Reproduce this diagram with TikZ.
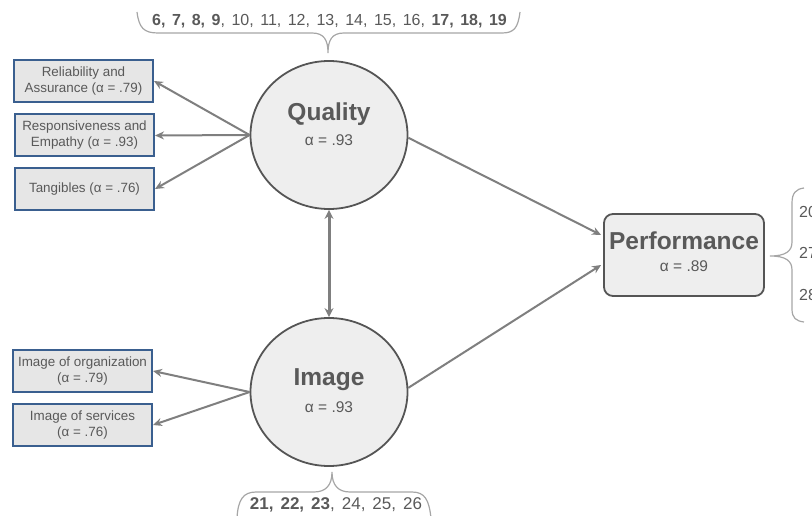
\documentclass[tikz,border=0pt]{standalone}
\usepackage{fontspec}
\setmainfont{Liberation Sans}
\usetikzlibrary{arrows.meta,calc,shapes.geometric}
\definecolor{txt}{HTML}{595959}
\definecolor{arrc}{HTML}{7F7F7F}
\definecolor{circb}{HTML}{555555}
\definecolor{circf}{HTML}{EEEEEE}
\definecolor{boxf}{HTML}{E6E6E6}
\definecolor{boxb}{HTML}{3A5F8F}
\definecolor{brc}{HTML}{A6A6A6}
\tikzset{
  circ/.style={ellipse, draw=circb, fill=circf, line width=1.8pt, minimum width=157pt, minimum height=148pt, inner sep=0pt},
  perf/.style={rectangle, rounded corners=9pt, draw=circb, fill=circf, line width=1.8pt, minimum width=160pt, minimum height=82pt, inner sep=0pt},
  itembox/.style={rectangle, draw=boxb, fill=boxf, line width=2pt, minimum width=139pt, minimum height=42pt, inner sep=0pt, align=center, text=txt, font=\fontsize{13.4}{16}\selectfont},
  ttl/.style={inner sep=0pt, text=txt, font=\fontsize{24.5}{28}\selectfont\bfseries},
  alp/.style={inner sep=0pt, text=txt, font=\fontsize{15.5}{18}\selectfont},
  brt/.style={inner sep=0pt, text=txt, font=\fontsize{16}{19}\selectfont},
  arr/.style={draw=arrc, line width=2pt, -{Stealth[length=9pt,width=8pt]}},
  darr/.style={draw=arrc, line width=3pt, {Stealth[length=9pt,width=9pt]}-{Stealth[length=9pt,width=9pt]}},
  bracel/.style={draw=brc, line width=1.2pt}
}
\begin{document}
\begin{tikzpicture}[x=1pt,y=-1pt]
\useasboundingbox (0,0) rectangle (812,516);
% latent constructs
\node[circ] (Q) at (329,135) {};
\node[ttl] (Qt) at (329,114) {Quality};
\node[alp] (Qa) at (329,140) {α = .93};
\node[circ] (I) at (329,392) {};
\node[ttl] (It) at (329,380) {Image};
\node[alp] (Ia) at (329,407) {α = .93};
\node[perf] (P) at (684,255) {};
\node[ttl] (Pt) at (684,241) {Performance};
\node[alp] (Pa) at (684,266) {α = .89};
% dimension boxes
\node[itembox] (b1) at (83.5,81) {Reliability and\\Assurance (α = .79)};
\node[itembox] (b2) at (84.5,135.5) {Responsiveness and\\Empathy (α = .93)};
\node[itembox] (b3) at (84.5,189) {Tangibles (α = .76)};
\node[itembox] (b4) at (82.5,371) {Image of organization\\(α = .79)};
\node[itembox] (b5) at (82.5,425) {Image of services\\(α = .76)};
% arrows
\draw[arr] (Q.west) -- (b1.east);
\draw[arr] (Q.west) -- (b2.east);
\draw[arr] (Q.west) -- (b3.east);
\draw[arr] (I.west) -- (b4.east);
\draw[arr] (I.west) -- (b5.east);
\draw[arr] (Q.-2) -- ($(P.west)+(-2,-20)$);
\draw[arr] (I.3) -- ($(P.west)+(-2,10)$);
\draw[darr] (Q.south) -- (I.north);
% braces
\draw[bracel] (137,12) .. controls (139,28) and (144,33) .. (158,33) -- (312,33) .. controls (324,33) and (328,40) .. (328,53) .. controls (328,40) and (332,33) .. (344,33) -- (502,33) .. controls (514,33) and (518,28) .. (520,12);
\draw[bracel] (237,518) .. controls (238,500) and (243,492) .. (256,492) -- (314,492) .. controls (326,492) and (332,485) .. (332,472) .. controls (332,485) and (338,492) .. (350,492) -- (412,492) .. controls (425,492) and (429,500) .. (431,518);
\draw[bracel] (804,188) .. controls (796,189) and (792,193) .. (792,203) -- (792,242) .. controls (792,251) and (786,256) .. (770,256) .. controls (786,256) and (792,261) .. (792,270) -- (792,309) .. controls (792,318) and (796,321) .. (804,322);
% brace texts
\node[brt] (tb) at (329.5,21) {\spaceskip=6.5pt\textbf{6, 7, 8, 9}, 10, 11, 12, 13, 14, 15, 16, \textbf{17, 18, 19}};
\node[brt, font=\fontsize{17}{19}\selectfont] (bb) at (336,505) {\spaceskip=7pt\textbf{21, 22, 23}, 24, 25, 26};
\node[brt, anchor=west] (r1) at (799,212) {20};
\node[brt, anchor=west] (r2) at (799,253) {27};
\node[brt, anchor=west] (r3) at (799,295) {28};
\end{tikzpicture}
\end{document}
